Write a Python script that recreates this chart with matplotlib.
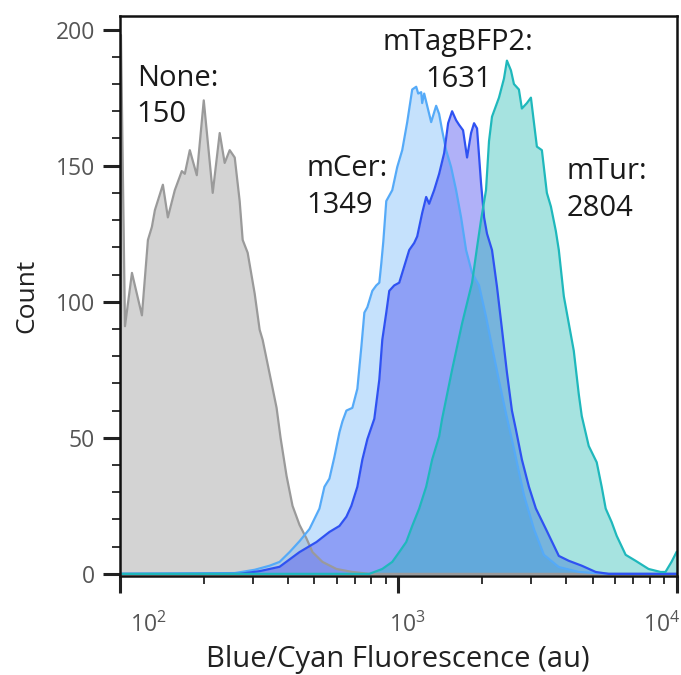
import numpy as np
import matplotlib
matplotlib.use("Agg")
import matplotlib.pyplot as plt
from matplotlib.transforms import ScaledTranslation

plt.rcParams['font.family'] = ['Open Sans', 'DejaVu Sans']

# flow cytometry histograms, fluorescence (au) vs event count
none_x = [100, 100.8, 104.2, 110.4, 119.9, 126.0, 130.2, 133.5, 142.6, 148.6, 157.4,
          166.8, 171.0, 178.2, 188.8, 200.0, 215.4, 228.2, 237.8, 247.9, 258.4,
          269.2, 276.0, 287.6, 304.8, 317.6, 325.6, 350.6, 365.4, 377.6, 396.8,
          416.9, 441.7, 468.0, 491.8, 534.1, 599.6, 684.1, 787.2, 10000]
none_count = [0, 198, 91, 110.6, 95, 122.7, 127.5, 133.7, 143, 131, 141,
              148, 147, 155.7, 146.5, 174, 140, 162, 151, 155.7, 153,
              137, 122.7, 118, 103, 89.7, 86, 70, 61, 50, 36,
              25, 18, 13, 8, 4.4, 1.8, 0.7, 0, 0]

mcer_x = [100, 258.4, 304.8, 344.9, 374.6, 406.8, 441.7, 479.8, 521.0, 542.9, 565.8,
          589.7, 614.6, 630.0, 651.1, 684.1, 712.9, 737.0, 755.5, 774.5, 806.9,
          834.0, 855.0, 869.0, 883.5, 905.7, 951.7, 991.7, 1033.5, 1077.1, 1122.5,
          1160.2, 1179.5, 1209.1, 1219.0, 1239.4, 1270.4, 1313.1, 1346.0, 1368.4,
          1402.7, 1437.8, 1486.0, 1548.6, 1614.0, 1682.0, 1753.0, 1841.9, 1951.4,
          2067.3, 2172.4, 2301.4, 2438.3, 2604.7, 2828.8, 3072.3, 3336.6, 3776.2,
          4454.6, 5705.3, 10000]
mcer_count = [0, 0.3, 1.5, 3, 4.4, 8, 12, 16.5, 24, 32, 35,
              43, 52, 56, 60, 61, 68, 83.5, 96, 98, 104,
              106, 107, 114, 122, 137, 141, 149.5, 155.7, 166, 178,
              179, 176.5, 177, 173, 176.5, 172, 166, 169.6, 172,
              169, 163, 155.7, 149.5, 141, 131, 119, 110.6, 106,
              94.5, 83.5, 71, 59, 46, 29, 16.5, 7, 2.5,
              0.7, 0, 0]

bfp_x = [100, 269.2, 317.6, 374.6, 441.7, 508.3, 565.8, 614.6, 651.1, 678.4, 712.9,
         743.1, 774.5, 820.4, 855.0, 876.3, 905.7, 928.4, 967.5, 1008.3, 1050.8,
         1095.1, 1141.2, 1169.9, 1219.0, 1259.9, 1291.3, 1346.0, 1402.7, 1461.9,
         1510.9, 1561.5, 1614.0, 1654.5, 1709.9, 1767.4, 1826.8, 1872.6, 1919.5,
         1983.8, 2034.6, 2084.5, 2172.4, 2263.8, 2358.6, 2458.0, 2561.9, 2647.9,
         2781.8, 2948.8, 3123.6, 3392.3, 3776.2, 4101.3, 4565.8, 5124.8, 5705.3, 10000]
bfp_count = [0, 0, 1, 2.6, 8, 11.7, 15.4, 17.6, 21, 25, 32,
             42, 49.5, 57, 71.4, 86, 96, 104, 106, 107, 113,
             119, 121.6, 124, 132.6, 138.5, 136, 141, 147, 154.6,
             165.6, 170, 166.7, 165, 163, 153, 162, 165.6, 163.7,
             143.6, 131, 125, 119, 105.5, 90, 74, 60, 53,
             42, 32, 24, 16.5, 6.6, 4.8, 3, 0.7, 0, 0]

mtur_x = [100, 724.8, 787.2, 876.3, 951.7, 1008.3, 1068.3, 1122.5, 1189.3, 1259.9,
          1323.9, 1402.7, 1437.8, 1561.5, 1695.9, 1841.9, 1919.5, 1983.8, 2067.3,
          2119.3, 2172.4, 2301.4, 2398.6, 2458.0, 2541.0, 2604.7, 2713.8, 2781.8,
          2900.3, 2997.7, 3072.3, 3149.4, 3282.4, 3420.6, 3536.7, 3684.0, 3776.2,
          3936.2, 4101.3, 4273.7, 4454.6, 4565.8, 4836.7, 5167.0, 5384.6, 5565.3,
          5848.1, 6094.6, 6564.7, 7129.1, 7936.2, 8762.3, 9128.0, 9596.0, 10000]
mtur_count = [0, 0, 0, 1.8, 4.4, 8, 11.7, 17.6, 24, 32,
              42, 50.5, 57, 75, 92, 107, 120, 130, 141,
              159, 168, 175, 182, 188.6, 185, 180, 178, 171,
              173, 175, 166, 157, 155.7, 140, 135, 126, 119,
              102, 92, 82, 66, 58, 47, 41, 32, 24,
              19, 14, 7, 4.8, 1.8, 0.7, 0.7, 4.4, 8]

labels = ['None', 'mCer', 'mTagBFP2', 'mTur']
medians = [150, 1349, 1631, 2804]

series = [
    (none_x, none_count, '#c9c9c9', 0.8, '#9a9a9a'),
    (mcer_x, mcer_count, '#8cc5fa', 0.5, '#55aaf8'),
    (bfp_x, bfp_count, '#4447f0', 0.42, '#2f52f2'),
    (mtur_x, mtur_count, '#22b9b3', 0.4, '#1fb8bc'),
]

fig = plt.figure(figsize=(6.81, 6.75), dpi=100)
ax = fig.add_axes([120 / 681, 1 - 575.5 / 675, 556.5 / 681, 559.5 / 675])

for x, y, fc, a, ec in series:
    ax.fill_between(x, y, 0, color=fc, alpha=a, lw=0, zorder=1)
for x, y, fc, a, ec in series:
    ax.plot(x, y, color=ec, lw=1.6, zorder=2, solid_joinstyle='round')

ax.set_xscale('log')
ax.set_xlim(100, 10000)
ax.set_ylim(-0.6, 205)

ax.set_yticks([0, 50, 100, 150, 200])
ax.set_yticks(np.arange(0, 201, 10), minor=True)
ax.set_xticks([100, 1000, 10000])
ax.set_xticklabels([r'$\mathregular{10^{2}}$', r'$\mathregular{10^{3}}$',
                    r'$\mathregular{10^{4}}$'])
ax.tick_params(axis='both', which='major', length=12, width=2.2, color='#222222',
               labelsize=16.5, labelcolor='#555555')
ax.tick_params(axis='both', which='minor', length=6, width=1.4, color='#333333')
ax.tick_params(axis='y', which='major', pad=6)
ax.tick_params(axis='x', which='major', pad=15)

# shift the decade labels a bit sideways
for lab, dx in zip(ax.get_xticklabels(), [0.28, 0.09, -0.15]):
    lab.set_transform(lab.get_transform() + ScaledTranslation(dx, 0, fig.dpi_scale_trans))

for s in ax.spines.values():
    s.set_linewidth(1.8)
    s.set_color('#111111')

ax.set_ylabel('Count', fontsize=19, color='#222222', labelpad=12)
ax.set_xlabel('Blue/Cyan Fluorescence (au)', fontsize=21, color='#222222', labelpad=5)

txt = dict(fontsize=21, color='#1a1a1a', va='top', linespacing=1.36, transform=ax.transAxes)
ax.text(0.030, 0.915, f'{labels[0]}:\n{medians[0]}', ha='left', **txt)
ax.text(0.335, 0.754, f'{labels[1]}:\n{medians[1]}', ha='left', **txt)
ax.text(0.608, 0.978, f'{labels[2]}:\n{medians[2]}', ha='center', multialignment='center', **txt)
ax.text(0.803, 0.748, f'{labels[3]}:\n{medians[3]}', ha='left', **txt)

fig.savefig('out.png', dpi=100)
